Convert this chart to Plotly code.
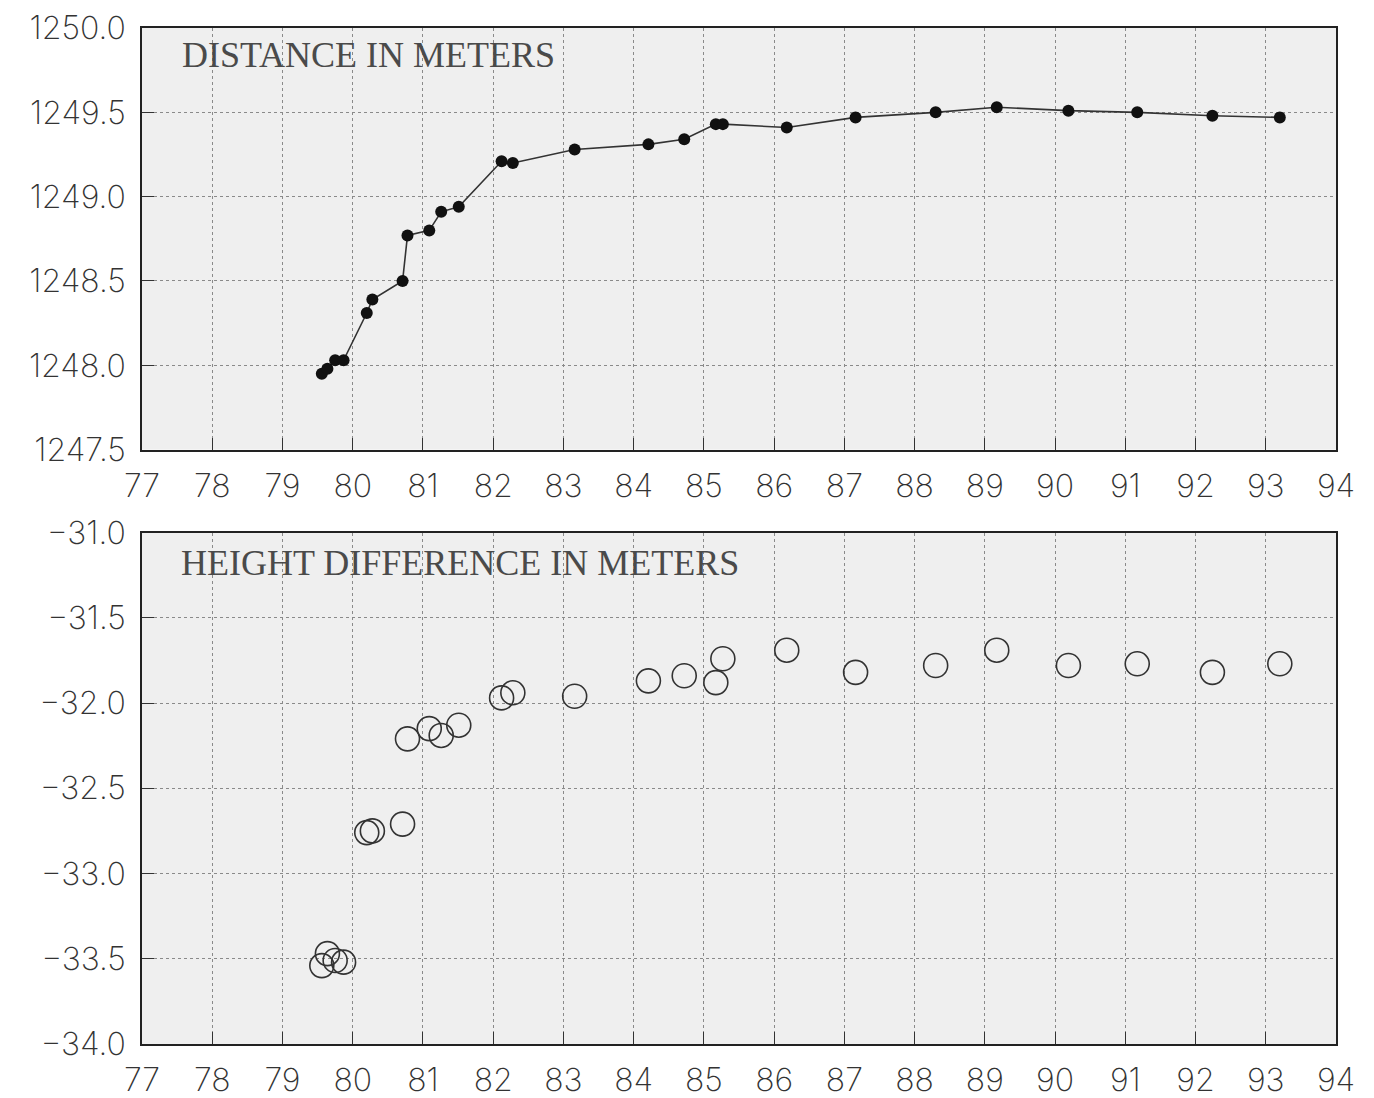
import plotly.graph_objects as go
from plotly.subplots import make_subplots

# Station positions (shared by both panels)
position = [79.56, 79.64, 79.75, 79.87, 80.20, 80.28, 80.71, 80.78, 81.09, 81.26,
            81.51, 82.12, 82.28, 83.16, 84.21, 84.72, 85.17, 85.27, 86.18, 87.16,
            88.30, 89.17, 90.19, 91.17, 92.24, 93.20]

# Measured distance (m)
distance = [1247.95, 1247.98, 1248.03, 1248.03, 1248.31, 1248.39, 1248.50, 1248.77,
            1248.80, 1248.91, 1248.94, 1249.21, 1249.20, 1249.28, 1249.31, 1249.34,
            1249.43, 1249.43, 1249.41, 1249.47, 1249.50, 1249.53, 1249.51, 1249.50,
            1249.48, 1249.47]

# Height difference (m)
height_diff = [-33.54, -33.47, -33.51, -33.52, -32.76, -32.75, -32.71, -32.21,
               -32.15, -32.19, -32.13, -31.97, -31.94, -31.96, -31.87, -31.84,
               -31.88, -31.74, -31.69, -31.82, -31.78, -31.69, -31.78, -31.77,
               -31.82, -31.77]

x_ticks = list(range(77, 95))
dist_ticks = [1247.5, 1248.0, 1248.5, 1249.0, 1249.5, 1250.0]
height_ticks = [-34.0, -33.5, -33.0, -32.5, -32.0, -31.5, -31.0]

fig = make_subplots(rows=2, cols=1, vertical_spacing=0.08)

fig.add_trace(go.Scatter(
    x=position, y=distance, mode="lines+markers",
    line=dict(color="#333333", width=1.6),
    marker=dict(color="#111111", size=12, symbol="circle"),
    showlegend=False,
), row=1, col=1)

fig.add_trace(go.Scatter(
    x=position, y=height_diff, mode="markers",
    marker=dict(color="#333333", size=24, symbol="circle-open",
                line=dict(color="#333333", width=1.6)),
    showlegend=False,
), row=2, col=1)

tick_font = dict(family="Inter, Lato, DejaVu Sans", size=32, color="#333333", weight=200)

axis_common = dict(
    showline=True, linecolor="#222222", linewidth=1.5, mirror=True,
    showgrid=True, gridcolor="#8a8a8a", gridwidth=1, griddash="dot",
    ticks="inside", ticklen=12, tickcolor="#333333", tickwidth=1,
    tickfont=tick_font, zeroline=False, automargin=False,
)

fig.update_xaxes(range=[77, 94], tickvals=x_ticks, ticklabelstandoff=7, **axis_common)
fig.update_yaxes(ticklabelstandoff=8, **axis_common)

fig.update_yaxes(range=[1247.5, 1250.0], tickvals=dist_ticks, tickformat=".1f", row=1, col=1)
fig.update_yaxes(range=[-34.0, -31.0], tickvals=height_ticks, tickformat=".1f", row=2, col=1)

fig.update_layout(
    width=1374, height=1098,
    margin=dict(l=142, r=38, t=28, b=54),
    paper_bgcolor="white", plot_bgcolor="#efefef",
    yaxis=dict(domain=[0.585, 1.0]),
    yaxis2=dict(domain=[0.0, 0.5034]),
)

label_font = dict(family="Liberation Serif, serif", size=36, color="#4a4a4a")
fig.add_annotation(text="DISTANCE IN METERS", xref="x domain", yref="y domain",
                   x=0.032, y=0.935, xanchor="left", yanchor="middle",
                   showarrow=False, font=label_font)
fig.add_annotation(text="HEIGHT DIFFERENCE IN METERS", xref="x2 domain", yref="y2 domain",
                   x=0.031, y=0.94, xanchor="left", yanchor="middle",
                   showarrow=False, font=label_font)

fig.write_html("out.html")
